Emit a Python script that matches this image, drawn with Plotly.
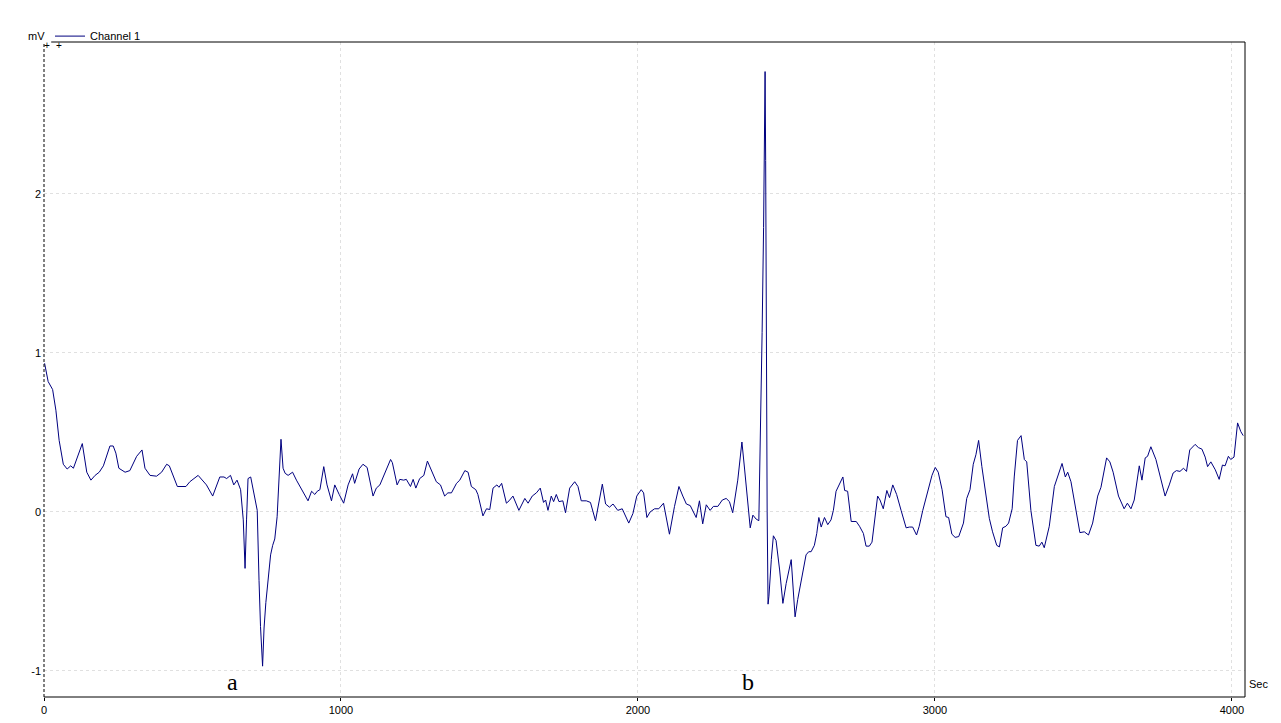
"""Channel 1 potential recording, mV versus seconds."""

import plotly.graph_objects as go

time_s = [
    2, 14, 29, 40, 51, 65, 78, 90, 99, 129, 144, 158, 172, 186, 200, 222, 233, 242, 252, 273,
    289, 312, 330, 340, 357, 379, 396, 413, 422, 435, 449, 478, 491, 519, 547, 568, 592, 606, 615, 628,
    639, 650, 662, 671, 677, 682, 687, 696, 710, 718, 724, 729, 736, 741, 747, 755, 763, 770, 777, 785,
    792, 798, 805, 812, 822, 837, 850, 873, 889, 901, 912, 920, 929, 942, 953, 968, 979, 994, 1009, 1024,
    1039, 1046, 1061, 1074, 1088, 1108, 1119, 1131, 1147, 1167, 1173, 1189, 1198, 1211, 1220, 1234, 1243, 1252, 1265, 1279,
    1291, 1310, 1321, 1335, 1349, 1360, 1372, 1389, 1400, 1417, 1428, 1439, 1454, 1461, 1478, 1490, 1501, 1512, 1525, 1532,
    1541, 1557, 1566, 1579, 1599, 1619, 1630, 1644, 1658, 1671, 1682, 1689, 1697, 1708, 1716, 1725, 1734, 1747, 1756, 1770,
    1787, 1798, 1809, 1826, 1840, 1857, 1869, 1880, 1891, 1904, 1916, 1932, 1947, 1969, 1983, 1996, 2011, 2019, 2030, 2041,
    2056, 2070, 2086, 2106, 2123, 2138, 2151, 2163, 2176, 2196, 2207, 2218, 2230, 2243, 2254, 2269, 2284, 2297, 2308, 2319,
    2336, 2350, 2359, 2370, 2378, 2387, 2398, 2407, 2415, 2418, 2423, 2426, 2428, 2430, 2432, 2435, 2438, 2441, 2449, 2456,
    2465, 2477, 2488, 2499, 2516, 2521, 2529, 2538, 2555, 2566, 2575, 2583, 2594, 2602, 2609, 2617, 2628, 2639, 2650, 2658,
    2667, 2678, 2690, 2696, 2706, 2718, 2735, 2746, 2759, 2768, 2779, 2788, 2796, 2807, 2815, 2826, 2838, 2847, 2858, 2871,
    2886, 2903, 2914, 2925, 2938, 2947, 2959, 2975, 2990, 3001, 3011, 3024, 3037, 3046, 3057, 3068, 3080, 3096, 3107, 3118,
    3129, 3138, 3147, 3158, 3172, 3183, 3194, 3208, 3217, 3228, 3239, 3248, 3260, 3267, 3278, 3290, 3301, 3309, 3323, 3340,
    3351, 3360, 3368, 3385, 3402, 3413, 3428, 3439, 3447, 3458, 3473, 3488, 3503, 3517, 3531, 3548, 3559, 3578, 3589, 3600,
    3618, 3637, 3648, 3660, 3671, 3688, 3697, 3708, 3716, 3727, 3744, 3761, 3775, 3789, 3802, 3813, 3825, 3837, 3847, 3858,
    3876, 3887, 3899, 3910, 3918, 3929, 3944, 3957, 3968, 3977, 3988, 3996, 4007, 4019, 4030, 4038,
]
channel_1_mv = [
    0.935, 0.82, 0.77, 0.64, 0.45, 0.30, 0.27, 0.29, 0.275, 0.43, 0.25, 0.20, 0.23, 0.25, 0.29, 0.415, 0.415, 0.37, 0.275, 0.25,
    0.26, 0.35, 0.39, 0.275, 0.23, 0.225, 0.25, 0.30, 0.29, 0.225, 0.16, 0.16, 0.19, 0.23, 0.17, 0.10, 0.22, 0.22, 0.21, 0.23,
    0.17, 0.20, 0.14, -0.05, -0.355, -0.05, 0.21, 0.22, 0.10, 0.01, -0.43, -0.72, -0.97, -0.73, -0.57, -0.41, -0.27, -0.21, -0.17, -0.03,
    0.285, 0.457, 0.275, 0.243, 0.23, 0.25, 0.20, 0.12, 0.07, 0.13, 0.11, 0.13, 0.14, 0.285, 0.17, 0.07, 0.17, 0.11, 0.055, 0.17,
    0.24, 0.18, 0.27, 0.30, 0.28, 0.10, 0.15, 0.17, 0.24, 0.33, 0.31, 0.17, 0.205, 0.20, 0.205, 0.16, 0.205, 0.15, 0.21, 0.23,
    0.32, 0.23, 0.19, 0.17, 0.10, 0.12, 0.12, 0.18, 0.20, 0.26, 0.25, 0.16, 0.14, 0.11, -0.025, 0.02, 0.015, 0.15, 0.17, 0.155,
    0.18, 0.055, 0.07, 0.10, 0.01, 0.085, 0.055, 0.10, 0.12, 0.15, 0.06, 0.075, 0.01, 0.10, 0.065, 0.11, 0.065, 0.07, -0.005, 0.15,
    0.19, 0.16, 0.07, 0.07, 0.06, -0.055, 0.075, 0.175, 0.05, 0.03, 0.05, 0.01, 0.02, -0.07, -0.01, 0.10, 0.14, 0.12, -0.035, 0.0,
    0.02, 0.02, 0.055, -0.14, 0.035, 0.16, 0.10, 0.05, 0.04, -0.035, 0.07, -0.075, 0.045, 0.01, 0.035, 0.035, 0.075, 0.085, 0.065, -0.005,
    0.20, 0.44, 0.27, 0.025, -0.10, -0.02, -0.045, -0.055, 0.65, 1.13, 1.79, 2.44, 2.77, 2.21, 1.09, 0.0, -0.58, -0.53, -0.30, -0.15,
    -0.18, -0.365, -0.575, -0.45, -0.30, -0.47, -0.66, -0.55, -0.385, -0.27, -0.25, -0.25, -0.21, -0.135, -0.035, -0.095, -0.035, -0.08, -0.05, 0.01,
    0.13, 0.17, 0.22, 0.135, 0.13, -0.06, -0.06, -0.09, -0.135, -0.215, -0.215, -0.19, -0.08, 0.10, 0.075, 0.02, 0.135, 0.09, 0.17, 0.11,
    0.01, -0.10, -0.095, -0.095, -0.145, -0.09, 0.01, 0.12, 0.23, 0.28, 0.25, 0.14, -0.03, -0.035, -0.14, -0.16, -0.155, -0.07, 0.085, 0.14,
    0.30, 0.36, 0.45, 0.285, 0.10, -0.04, -0.125, -0.21, -0.22, -0.10, -0.09, -0.07, 0.02, 0.22, 0.45, 0.48, 0.33, 0.315, 0.01, -0.21,
    -0.215, -0.19, -0.225, -0.09, 0.16, 0.22, 0.305, 0.22, 0.25, 0.19, 0.035, -0.13, -0.125, -0.145, -0.07, 0.10, 0.155, 0.34, 0.315, 0.25,
    0.10, 0.02, 0.055, 0.02, 0.075, 0.29, 0.20, 0.34, 0.35, 0.41, 0.33, 0.20, 0.10, 0.17, 0.245, 0.26, 0.255, 0.275, 0.255, 0.39,
    0.425, 0.405, 0.395, 0.345, 0.285, 0.315, 0.265, 0.205, 0.295, 0.29, 0.35, 0.33, 0.345, 0.56, 0.505, 0.48,
]

x_ticks = [0, 1000, 2000, 3000, 4000]
y_ticks = [-1, 0, 1, 2]
y_tick_text = ["-1", "0", "1", "2"]
event_labels = ["a", "b"]
event_times = [636, 2369]

AXIS_FONT = {"family": "Liberation Sans, Arial, sans-serif", "size": 11, "color": "#000000"}

fig = go.Figure()
fig.add_trace(
    go.Scatter(
        x=time_s,
        y=channel_1_mv,
        mode="lines",
        name="Channel 1",
        line={"color": "#00007f", "width": 1},
    )
)

for label, t in zip(event_labels, event_times):
    fig.add_annotation(
        x=t, y=-1.07, xref="x", yref="y", text=label, showarrow=False,
        font={"family": "Liberation Serif, Times New Roman, serif", "size": 24, "color": "#000000"},
    )

fig.add_annotation(
    x=-0.006, y=1.009, xref="paper", yref="paper", text="mV", showarrow=False,
    xanchor="center", yanchor="middle", font=AXIS_FONT,
)
fig.add_annotation(
    x=1.0015, y=0.02, xref="paper", yref="paper", text="Sec", showarrow=False,
    xanchor="left", yanchor="middle", font=AXIS_FONT,
)
for px in [0.0025, 0.0125]:
    fig.add_annotation(
        x=px, y=0.995, xref="paper", yref="paper", text="+", showarrow=False,
        xanchor="center", yanchor="middle", font={"family": "Liberation Sans", "size": 10, "color": "#000000"},
    )

# frame: dashed left edge, solid elsewhere
fig.add_shape(type="line", xref="paper", yref="paper", x0=0, x1=0, y0=0, y1=1,
              line={"color": "#000000", "width": 1, "dash": "3px,2px"})
fig.add_shape(type="line", xref="paper", yref="paper", x0=0, x1=1, y0=0, y1=0,
              line={"color": "#000000", "width": 1})
fig.add_shape(type="line", xref="paper", yref="paper", x0=1, x1=1, y0=0, y1=1,
              line={"color": "#000000", "width": 1})
fig.add_shape(type="line", xref="paper", yref="paper", x0=0.006, x1=1, y0=1, y1=1,
              line={"color": "#000000", "width": 1})

fig.update_xaxes(
    range=[0, 4044],
    tickvals=x_ticks,
    ticks="outside",
    ticklen=3,
    tickcolor="#000000",
    showgrid=True,
    gridcolor="#e0e0e0",
    griddash="3px,3px",
    zeroline=False,
    showline=False,
    tickfont=AXIS_FONT,
    automargin=False,
)
fig.update_yaxes(
    range=[-1.164, 2.956],
    tickvals=y_ticks,
    ticktext=y_tick_text,
    ticks="",
    showgrid=True,
    gridcolor="#e0e0e0",
    griddash="3px,3px",
    zeroline=False,
    showline=False,
    tickfont=AXIS_FONT,
    ticklabelstandoff=2,
    automargin=False,
)
# page body adds an 8px margin, so the figure is sized to sit inside it
fig.update_layout(
    width=1265,
    height=715,
    margin={"l": 36, "r": 28, "t": 34, "b": 26},
    paper_bgcolor="#ffffff",
    plot_bgcolor="#ffffff",
    showlegend=True,
    legend={
        "x": 0.005, "y": 1.009, "xanchor": "left", "yanchor": "middle",
        "font": AXIS_FONT, "bgcolor": "rgba(0,0,0,0)", "borderwidth": 0,
        "itemwidth": 30,
    },
)

fig.write_html("out.html")
